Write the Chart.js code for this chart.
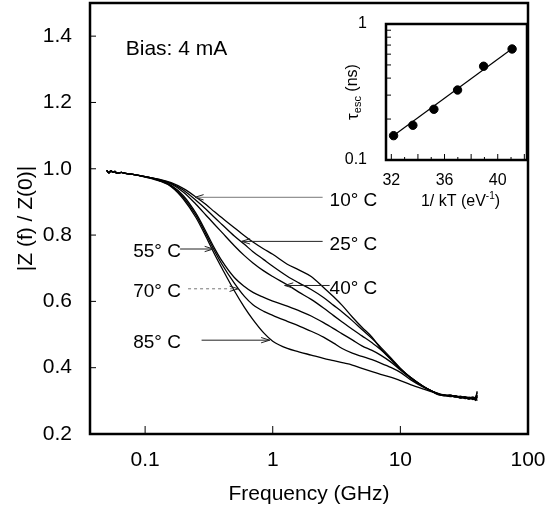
<!DOCTYPE html>
<html>
<head>
<meta charset="utf-8">
<script src="https://cdn.jsdelivr.net/npm/chart.js@4.4.1/dist/chart.umd.min.js"></script>
<style>
  html, body { margin: 0; padding: 0; background: #fff; }
  #wrap { position: relative; width: 548px; height: 510px; }
  #main { position: absolute; left: 0; top: 0; }
  #inset { position: absolute; left: 300px; top: 0; }
</style>
</head>
<body>
<div id="wrap">
  <canvas id="main" width="548" height="510"></canvas>
  <canvas id="inset" width="248" height="215"></canvas>
</div>
<script>
// ---- main plot data: |Z(f)/Z(0)| vs frequency (GHz) ----
const headFreq = [0.05, 0.052, 0.054, 0.056, 0.058, 0.06, 0.065, 0.07];
const headZ    = [0.995, 0.988, 0.994, 0.989, 0.992, 0.986, 0.989, 0.986];

const bodyFreq = [0.08, 0.1, 0.13, 0.16, 0.2, 0.25, 0.3, 0.35, 0.4, 0.5, 0.6, 0.7, 0.85, 1,
                  1.3, 1.6, 2, 2.5, 3, 3.5, 4.2, 5, 6, 7, 8.5, 10, 12, 15, 18];

const z10C = [0.983, 0.976, 0.968, 0.958, 0.940, 0.915, 0.892, 0.870, 0.852, 0.822, 0.798, 0.779, 0.758, 0.742,
              0.712, 0.695, 0.675, 0.642, 0.614, 0.588, 0.553, 0.522, 0.492, 0.458, 0.425, 0.398, 0.371, 0.345, 0.328];
const z25C = [0.983, 0.976, 0.967, 0.956, 0.935, 0.905, 0.878, 0.853, 0.832, 0.797, 0.772, 0.750, 0.726, 0.706,
              0.676, 0.656, 0.636, 0.612, 0.588, 0.568, 0.542, 0.515, 0.488, 0.462, 0.428, 0.398, 0.371, 0.345, 0.328];
const z40C = [0.983, 0.976, 0.966, 0.954, 0.929, 0.893, 0.860, 0.832, 0.808, 0.768, 0.738, 0.716, 0.692, 0.675,
              0.650, 0.628, 0.606, 0.580, 0.557, 0.538, 0.516, 0.496, 0.475, 0.455, 0.423, 0.396, 0.370, 0.344, 0.328];
const z55C = [0.983, 0.976, 0.965, 0.950, 0.918, 0.866, 0.810, 0.760, 0.722, 0.672, 0.645, 0.627, 0.612, 0.601,
              0.586, 0.572, 0.556, 0.536, 0.518, 0.502, 0.484, 0.466, 0.452, 0.438, 0.416, 0.393, 0.369, 0.344, 0.328];
const z70C = [0.983, 0.976, 0.964, 0.948, 0.913, 0.860, 0.803, 0.752, 0.712, 0.655, 0.615, 0.590, 0.570, 0.558,
              0.540, 0.526, 0.510, 0.492, 0.474, 0.458, 0.444, 0.434, 0.424, 0.414, 0.400, 0.386, 0.364, 0.342, 0.327];
const z85C = [0.983, 0.975, 0.963, 0.946, 0.908, 0.853, 0.795, 0.742, 0.700, 0.632, 0.582, 0.545, 0.505, 0.480,
              0.458, 0.448, 0.438, 0.428, 0.421, 0.415, 0.408, 0.398, 0.388, 0.380, 0.371, 0.361, 0.349, 0.336, 0.326];

// noisy ends above ~20 GHz
const tailFreq = [20, 22, 24.5, 27, 29.5, 32, 34.5, 37, 39, 40];
const tail10C = [0.322, 0.318, 0.315, 0.316, 0.311, 0.313, 0.309, 0.312, 0.306, 0.318];
const tail25C = [0.320, 0.317, 0.318, 0.312, 0.314, 0.308, 0.311, 0.305, 0.314, 0.325];
const tail40C = [0.321, 0.315, 0.317, 0.313, 0.310, 0.312, 0.306, 0.310, 0.303, 0.312];
const tail55C = [0.319, 0.318, 0.314, 0.315, 0.309, 0.311, 0.307, 0.309, 0.311, 0.329];
const tail70C = [0.320, 0.316, 0.316, 0.311, 0.313, 0.307, 0.310, 0.304, 0.309, 0.300];
const tail85C = [0.318, 0.317, 0.313, 0.314, 0.308, 0.310, 0.305, 0.308, 0.301, 0.316];

const xTicks = [0.1, 1, 10, 100];
const yTicks = [0.2, 0.4, 0.6, 0.8, 1.0, 1.2, 1.4];

// labels with arrows: text anchor + arrow tail/tip in data units
const tempLabels = ['10° C', '25° C', '40° C', '55° C', '70° C', '85° C'];
const tipFreq    = [0.246, 0.569, 1.24, 0.342, 0.536, 0.947];
const tipZ       = [0.914, 0.781, 0.648, 0.758, 0.638, 0.483];
const tailArrowF = [2.46, 2.46, 2.79, 0.188, 0.217, 0.277];
const textFreq   = [2.79, 2.79, 2.79, 0.0806, 0.0806, 0.0806];

// ---- inset data: tau_esc vs 1/kT ----
const invKT  = [32.17, 33.62, 35.2, 36.98, 38.94, 41.08];
const tauEsc = [0.151, 0.180, 0.236, 0.327, 0.489, 0.655];
const fitKT  = [32.2, 41.1];
const fitTau = [0.152, 0.66];
const insetXTicks = [32, 36, 40];

const FONT = '"Liberation Sans", Arial, Helvetica, sans-serif';

function buildSeries(body, tail) {
  const pts = [];
  headFreq.forEach((f, i) => pts.push({ x: f, y: headZ[i] }));
  bodyFreq.forEach((f, i) => pts.push({ x: f, y: body[i] }));
  tailFreq.forEach((f, i) => pts.push({ x: f, y: tail[i] }));
  return pts;
}

const seriesList = [
  [z10C, tail10C], [z25C, tail25C], [z40C, tail40C],
  [z55C, tail55C], [z70C, tail70C], [z85C, tail85C]
];

const datasets = seriesList.map(([body, tail], i) => ({
  label: tempLabels[i],
  data: buildSeries(body, tail),
  borderColor: '#000',
  borderWidth: 1.3,
  pointRadius: 0,
  fill: false,
  cubicInterpolationMode: 'monotone'
}));

// no extra padding for edge labels, so the plot box sits where we ask
function noPad(s) {
  s.paddingTop = 0; s.paddingBottom = 0; s.paddingLeft = 0; s.paddingRight = 0;
}

function arrowHead(ctx, x1, y1, x2, y2) {
  const ang = Math.atan2(y2 - y1, x2 - x1);
  const len = 9;
  ctx.beginPath();
  ctx.moveTo(x2, y2);
  ctx.lineTo(x2 - len * Math.cos(ang - 0.3), y2 - len * Math.sin(ang - 0.3));
  ctx.moveTo(x2, y2);
  ctx.lineTo(x2 - len * Math.cos(ang + 0.3), y2 - len * Math.sin(ang + 0.3));
  ctx.stroke();
}

const mainDecor = {
  id: 'mainDecor',
  afterDraw(chart) {
    const { ctx, chartArea: a, scales } = chart;
    const xs = scales.x, ys = scales.y;
    ctx.save();
    ctx.strokeStyle = '#000';
    ctx.lineWidth = 2.5;
    ctx.strokeRect(a.left, a.top, a.right - a.left, a.bottom - a.top);

    ctx.lineWidth = 1;
    yTicks.forEach(v => {
      const y = ys.getPixelForValue(v);
      ctx.beginPath(); ctx.moveTo(a.left, y); ctx.lineTo(a.left + 6, y); ctx.stroke();
    });
    xTicks.slice(0, 3).forEach(v => {
      const x = xs.getPixelForValue(v);
      ctx.beginPath(); ctx.moveTo(x, a.bottom); ctx.lineTo(x, a.bottom - 8); ctx.stroke();
    });

    // bias note
    ctx.fillStyle = '#000';
    ctx.font = '21px ' + FONT;
    ctx.textBaseline = 'middle';
    ctx.textAlign = 'left';
    ctx.fillText('Bias: 4 mA', xs.getPixelForValue(0.0705), ys.getPixelForValue(1.36));

    // temperature labels + arrows
    ctx.font = '19px ' + FONT;
    tempLabels.forEach((t, i) => {
      const tx = xs.getPixelForValue(tipFreq[i]);
      const ty = ys.getPixelForValue(tipZ[i]);
      const sx = xs.getPixelForValue(tailArrowF[i]);
      ctx.strokeStyle = i === 0 || i === 4 ? '#777' : '#222';
      ctx.lineWidth = 1;
      ctx.setLineDash(i === 4 ? [3, 3] : []);
      ctx.beginPath(); ctx.moveTo(sx, ty); ctx.lineTo(tx, ty); ctx.stroke();
      ctx.setLineDash([]);
      ctx.strokeStyle = '#222';
      arrowHead(ctx, sx, ty, tx, ty);
      ctx.fillText(t, xs.getPixelForValue(textFreq[i]), ty + 3);
    });
    ctx.restore();
  }
};

new Chart(document.getElementById('main'), {
  type: 'line',
  data: { datasets },
  options: {
    responsive: false,
    animation: false,
    devicePixelRatio: 1,
    layout: { padding: { top: 3, right: 20, left: 0, bottom: 0 } },
    plugins: { legend: { display: false }, tooltip: { enabled: false } },
    scales: {
      x: {
        type: 'logarithmic',
        min: 0.037,
        max: 100,
        afterBuildTicks: s => { s.ticks = xTicks.map(v => ({ value: v })); },
        afterFit: s => { s.height = 76; noPad(s); },
        grid: { display: false },
        border: { display: false },
        ticks: {
          color: '#000', font: { family: FONT, size: 21 }, padding: 6,
          maxRotation: 0, autoSkip: false, callback: v => String(v)
        },
        title: {
          display: true, text: 'Frequency (GHz)', color: '#000',
          font: { family: FONT, size: 21 }, padding: { top: 0, bottom: 3 }
        }
      },
      y: {
        type: 'linear',
        min: 0.2,
        max: 1.5,
        afterBuildTicks: s => { s.ticks = yTicks.map(v => ({ value: v })); },
        afterFit: s => { s.width = 90; noPad(s); },
        grid: { display: false },
        border: { display: false },
        ticks: {
          color: '#000', font: { family: FONT, size: 21 }, padding: 10,
          callback: v => Number(v).toFixed(1)
        },
        title: {
          display: true, text: '|Z (f) / Z(0)|', color: '#000',
          font: { family: FONT, size: 21 }, padding: { top: 14, bottom: 0 }
        }
      }
    }
  },
  plugins: [mainDecor]
});

// ---- inset ----
const insetDecor = {
  id: 'insetDecor',
  beforeDraw(chart) {
    const { ctx, chartArea: a } = chart;
    ctx.save();
    ctx.fillStyle = '#fff';
    ctx.fillRect(a.left, a.top, a.right - a.left, a.bottom - a.top);
    ctx.restore();
  },
  afterDraw(chart) {
    const { ctx, chartArea: a, scales } = chart;
    const xs = scales.x, ys = scales.y;
    ctx.save();
    ctx.strokeStyle = '#000';
    ctx.lineWidth = 2.5;
    ctx.strokeRect(a.left, a.top, a.right - a.left, a.bottom - a.top);

    ctx.lineWidth = 1;
    for (let v = 0.2; v < 0.95; v += 0.1) {
      const y = ys.getPixelForValue(v);
      ctx.beginPath(); ctx.moveTo(a.left, y); ctx.lineTo(a.left + 5, y); ctx.stroke();
    }
    for (let k = 32; k <= 42; k++) {
      const x = xs.getPixelForValue(k);
      const len = k % 2 === 0 ? 6 : 3;
      ctx.beginPath(); ctx.moveTo(x, a.bottom); ctx.lineTo(x, a.bottom - len); ctx.stroke();
    }

    ctx.fillStyle = '#000';
    // y title: tau_esc (ns)
    ctx.save();
    ctx.translate(a.left - 33, (a.top + a.bottom) / 2);
    ctx.rotate(-Math.PI / 2);
    ctx.textBaseline = 'middle';
    ctx.font = '17px ' + FONT;
    const w1 = ctx.measureText('τ').width;
    ctx.font = '11px ' + FONT;
    const w2 = ctx.measureText('esc').width;
    ctx.font = '16px ' + FONT;
    const w3 = ctx.measureText(' (ns)').width;
    const x0 = -(w1 + w2 + w3) / 2;
    ctx.textAlign = 'left';
    ctx.font = '17px ' + FONT;
    ctx.fillText('τ', x0, 0);
    ctx.font = '11px ' + FONT;
    ctx.fillText('esc', x0 + w1, 5);
    ctx.font = '16px ' + FONT;
    ctx.fillText(' (ns)', x0 + w1 + w2, 0);
    ctx.restore();

    // x title: 1/ kT (eV^-1)
    ctx.textBaseline = 'middle';
    ctx.textAlign = 'left';
    ctx.font = '16px ' + FONT;
    const p1 = '1/ kT (eV', p3 = ')';
    const a1 = ctx.measureText(p1).width;
    const a3 = ctx.measureText(p3).width;
    ctx.font = '10px ' + FONT;
    const a2 = ctx.measureText('-1').width;
    const cx = (a.left + a.right) / 2 + 4;
    const sx = cx - (a1 + a2 + a3) / 2;
    const ty = a.bottom + 42;
    ctx.font = '16px ' + FONT;
    ctx.fillText(p1, sx, ty);
    ctx.font = '10px ' + FONT;
    ctx.fillText('-1', sx + a1, ty - 6);
    ctx.font = '16px ' + FONT;
    ctx.fillText(p3, sx + a1 + a2, ty);
    ctx.restore();
  }
};

new Chart(document.getElementById('inset'), {
  type: 'scatter',
  data: {
    datasets: [
      {
        type: 'line',
        data: fitKT.map((k, i) => ({ x: k, y: fitTau[i] })),
        borderColor: '#000', borderWidth: 1.2, pointRadius: 0, fill: false
      },
      {
        data: invKT.map((k, i) => ({ x: k, y: tauEsc[i] })),
        pointRadius: 4.2, backgroundColor: '#000', borderColor: '#000', showLine: false
      }
    ]
  },
  options: {
    responsive: false,
    animation: false,
    devicePixelRatio: 1,
    layout: { padding: { top: 24, right: 21, left: 0, bottom: 0 } },
    plugins: { legend: { display: false }, tooltip: { enabled: false } },
    scales: {
      x: {
        type: 'linear', min: 31.6, max: 42.2,
        afterBuildTicks: s => { s.ticks = insetXTicks.map(v => ({ value: v })); },
        afterFit: s => { s.height = 55; noPad(s); },
        grid: { display: false }, border: { display: false },
        ticks: { color: '#000', font: { family: FONT, size: 16 }, padding: 3, maxRotation: 0 }
      },
      y: {
        type: 'logarithmic', min: 0.1, max: 1,
        afterBuildTicks: s => { s.ticks = [0.1, 1].map(v => ({ value: v })); },
        afterFit: s => { s.width = 86; noPad(s); },
        grid: { display: false }, border: { display: false },
        ticks: { color: '#000', font: { family: FONT, size: 16 }, padding: 11, callback: v => (v === 1 ? '1' : '0.1') }
      }
    }
  },
  plugins: [insetDecor]
});
</script>
</body>
</html>
